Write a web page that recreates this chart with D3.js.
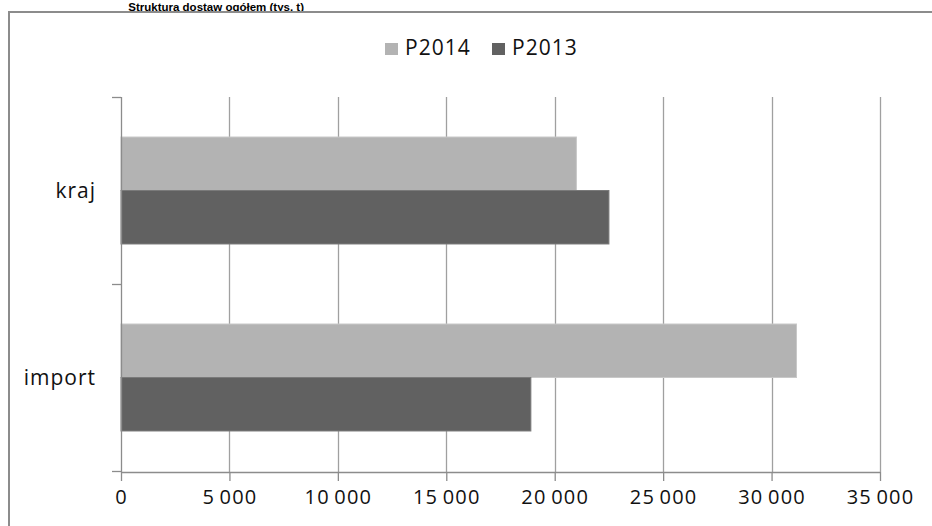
<!DOCTYPE html>
<html><head><meta charset="utf-8">
<script src="https://cdn.jsdelivr.net/npm/d3@7"></script>
<style>
html,body{margin:0;padding:0;background:#fff;overflow:hidden;}
svg{display:block;}
</style></head>
<body>
<script>
const categories = ["kraj", "import"];
const seriesNames = ["P2014", "P2013"];
const P2014 = [21000, 31150];
const P2013 = [22500, 18900];
const xTicks = [0, 5000, 10000, 15000, 20000, 25000, 30000, 35000];
const titleText = "Struktura dostaw ogółem (tys. t)";

const seriesValues = {P2014, P2013};
const colors = {P2014: "#b3b3b3", P2013: "#616161"};
const strokes = {P2014: "#c8c8c8", P2013: "#7a7a7a"};

const W = 932, H = 526;
const svg = d3.select("body").append("svg").attr("width", W).attr("height", H);
const font = "'Open Sans', sans-serif";

// title
svg.append("text").attr("x", 304).attr("y", 10.8).attr("text-anchor", "end")
  .attr("font-family", "'Liberation Sans', Arial, sans-serif").attr("font-weight", "bold").attr("font-size", 11.5)
  .attr("fill", "#000").text(titleText);

// chart border
svg.append("rect").attr("x", 9).attr("y", 12).attr("width", 960).attr("height", 560)
  .attr("fill", "none").attr("stroke", "#8c8c8c").attr("stroke-width", 2);

const x = d3.scaleLinear().domain([0, 35000]).range([121, 880]);
const y0 = d3.scaleBand().domain(categories).range([97, 471]).paddingInner(0.428).paddingOuter(0.214);
const y1 = d3.scaleBand().domain(seriesNames).range([0, y0.bandwidth()]);

// gridlines
svg.append("g").selectAll("line").data(xTicks.filter(d => d > 0)).join("line")
  .attr("x1", d => Math.round(x(d)) + 0.5).attr("x2", d => Math.round(x(d)) + 0.5)
  .attr("y1", 97).attr("y2", 472).attr("stroke", "#a0a0a0").attr("stroke-width", 1.3);

// bars
const rows = [];
categories.forEach((c, i) => seriesNames.forEach(s => rows.push({c, s, v: seriesValues[s][i]})));
svg.append("g").selectAll("rect").data(rows).join("rect")
  .attr("x", x(0)).attr("y", d => y0(d.c) + y1(d.s))
  .attr("width", d => x(d.v) - x(0)).attr("height", y1.bandwidth())
  .attr("fill", d => colors[d.s]).attr("stroke", d => strokes[d.s]).attr("stroke-width", 1);

// x axis
const xAxis = d3.axisBottom(x).tickValues(xTicks).tickSize(9).tickPadding(9)
  .tickFormat(d => d3.format(",")(d).replace(/,/g, "\u2009"));
const gx = svg.append("g").attr("transform", "translate(0,472)").call(xAxis);
gx.select(".domain").attr("stroke", "#8c8c8c").attr("stroke-width", 1.3).attr("d", "M121,0.5H880");
gx.selectAll(".tick line").attr("stroke", "#8c8c8c").attr("stroke-width", 1.3);
gx.selectAll("text").attr("font-family", font).attr("font-size", 20).attr("letter-spacing", 1.2).attr("fill", "#111");

// y axis
const gy = svg.append("g").attr("transform", "translate(121,0)");
gy.append("line").attr("x1", 0.5).attr("x2", 0.5).attr("y1", 97).attr("y2", 472)
  .attr("stroke", "#8c8c8c").attr("stroke-width", 1.3);
const bounds = [97, y0.step() + 97, 471];
gy.selectAll("line.tk").data(bounds).join("line").attr("class", "tk")
  .attr("x1", -9).attr("x2", 0).attr("y1", d => Math.round(d) + 0.5).attr("y2", d => Math.round(d) + 0.5)
  .attr("stroke", "#8c8c8c").attr("stroke-width", 1.3);
gy.selectAll("text").data(categories).join("text")
  .attr("x", -25).attr("y", d => y0(d) + y0.bandwidth() / 2).attr("dy", "0.35em")
  .attr("text-anchor", "end").attr("font-family", font).attr("font-size", 21).attr("letter-spacing", 1)
  .attr("fill", "#111").text(d => d);

// legend
const lg = svg.append("g");
const lx = [385, 492];
seriesNames.forEach((s, i) => {
  lg.append("rect").attr("x", lx[i]).attr("y", 43).attr("width", 13).attr("height", 12).attr("fill", colors[s]);
  lg.append("text").attr("x", lx[i] + 20).attr("y", 48).attr("dy", "0.35em")
    .attr("font-family", font).attr("font-size", 21).attr("letter-spacing", 1).attr("fill", "#111").text(s);
});
</script>
</body></html>
